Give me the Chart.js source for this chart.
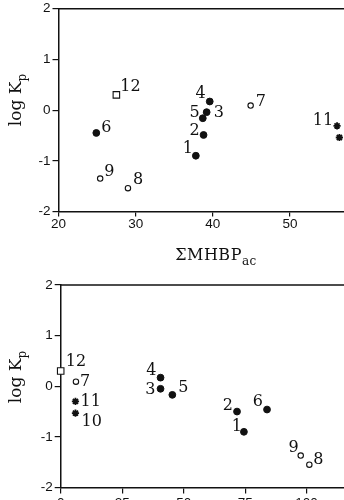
<!DOCTYPE html>
<html>
<head>
<meta charset="utf-8">
<script src="https://cdn.jsdelivr.net/npm/chart.js@4"></script>
<style>
  html, body { margin: 0; padding: 0; width: 344px; height: 500px; overflow: hidden; background: #fff; }
  canvas { position: absolute; left: 0; }
  .title { position: absolute; font-family: "DejaVu Serif", serif; font-size: 16px; color: #111; white-space: nowrap; line-height: 1; }
  .title sub { font-size: 12px; vertical-align: -5px; line-height: 0; }
  .ylab { transform: translate(-50%, -50%) rotate(-90deg); font-size: 17px; }
</style>
</head>
<body>
<canvas id="top" width="344" height="270" style="top:0"></canvas>
<canvas id="bottom" width="344" height="250" style="top:270px"></canvas>

<div class="title ylab" style="left:15px; top:100px">log K<sub>p</sub></div>
<div class="title" style="left:116px; top:247px; width:200px; text-align:center; letter-spacing:0.5px">ΣMHBP<sub>ac</sub></div>
<div class="title ylab" style="left:15px; top:377px">log K<sub>p</sub></div>

<script>
// compound numbers and marker kind
var ids = ['1', '2', '3', '4', '5', '6', '7', '8', '9', '10', '11', '12'];
var markerType = ['filled', 'filled', 'filled', 'filled', 'filled', 'filled',
                  'open', 'open', 'open', 'star', 'star', 'square'];

// upper panel: log Kp vs sum MHBP_ac
var topX = [37.8, 38.8, 39.2, 39.6, 38.7, 24.9, 44.9, 29.0, 25.4, 56.4, 56.1, 27.5];
var topY = [-0.90, -0.49, -0.04, 0.17, -0.16, -0.45, 0.09, -1.54, -1.35, -0.54, -0.31, 0.30];
var topTicksX = [20, 30, 40, 50];

// lower panel
var botX = [74.5, 71.7, 40.6, 40.6, 45.4, 83.9, 6.2, 101.1, 97.6, 6.0, 6.0, 0];
var botY = [-0.90, -0.50, -0.05, 0.17, -0.17, -0.46, 0.09, -1.55, -1.37, -0.53, -0.30, 0.30];
var botTicksX = [0, 25, 50, 75, 100];

var ticksY = [-2, -1, 0, 1, 2];

// where each number sits next to its marker
var topLabelOffsets = [[-3, -7], [-4, -4], [7, 1], [-4, -8], [-3, -5], [5, -5],
                       [5, -4], [5, -8], [4, -7], [5, 0], [-4, -5], [4, -8]];
var botLabelOffsets = [[-2, -5], [-4, -6], [-5, 1], [-4, -7], [6, -7], [-4, -8],
                       [4, 0], [4, -5], [-2, -8], [6, 9], [5, 0], [5, -9]];

var ink = '#111';
var markers = {
  filled: { shape: 'circle', r: 3.4, fill: ink, bw: 1 },
  open:   { shape: 'circle', r: 2.7, fill: '#fff', bw: 1.1 },
  star:   { shape: 'star', r: 3.6, fill: ink, bw: 1.8 },
  square: { shape: 'rect', r: 4.6, fill: '#fff', bw: 1.1 }
};

var pointIds = {
  id: 'pointIds',
  afterDatasetsDraw: function(chart, args, opts) {
    var ctx = chart.ctx;
    var meta = chart.getDatasetMeta(0);
    ctx.save();
    ctx.fillStyle = ink;
    ctx.font = '16px "DejaVu Serif"';
    ctx.textBaseline = 'middle';
    meta.data.forEach(function(pt, i) {
      var off = opts.offsets[i];
      ctx.textAlign = off[0] < 0 ? 'right' : 'left';
      ctx.fillText(ids[i], pt.x + off[0], pt.y + off[1]);
    });
    ctx.restore();
  }
};

var topFrame = {
  id: 'topFrame',
  afterDraw: function(chart) {
    var a = chart.chartArea, ctx = chart.ctx;
    ctx.save();
    ctx.strokeStyle = ink;
    ctx.lineWidth = 1.5;
    ctx.beginPath();
    ctx.moveTo(a.left, a.top);
    ctx.lineTo(a.right, a.top);
    ctx.stroke();
    ctx.restore();
  }
};

function makeChart(id, xs, ys, xmin, xmax, xticks, offsets, yWidth, padTop, padBottom, xTickLen, xTickPad) {
  var tickFont = { family: '"Liberation Sans", Arial', size: 13.5, lineHeight: 1 };
  return new Chart(document.getElementById(id), {
    type: 'scatter',
    data: {
      datasets: [{
        data: xs.map(function(x, i) { return { x: x, y: ys[i] }; }),
        pointStyle: markerType.map(function(t) { return markers[t].shape; }),
        pointRadius: markerType.map(function(t) { return markers[t].r; }),
        pointBackgroundColor: markerType.map(function(t) { return markers[t].fill; }),
        pointBorderColor: ink,
        pointBorderWidth: markerType.map(function(t) { return markers[t].bw; }),
        clip: false
      }]
    },
    options: {
      responsive: false,
      animation: false,
      events: [],
      layout: { autoPadding: false, padding: { top: padTop, bottom: padBottom, left: 0, right: 0 } },
      plugins: { legend: { display: false }, tooltip: { enabled: false }, pointIds: { offsets: offsets } },
      scales: {
        x: {
          type: 'linear', min: xmin, max: xmax,
          afterBuildTicks: function(s) { s.ticks = xticks.map(function(v) { return { value: v }; }); },
          afterFit: function(s) { s.height = 30; },
          grid: { drawOnChartArea: false, drawTicks: true, tickLength: xTickLen, color: ink, lineWidth: 1.2 },
          border: { color: ink, width: 1.5 },
          ticks: { color: ink, font: tickFont, padding: xTickPad, maxRotation: 0 }
        },
        y: {
          type: 'linear', min: -2, max: 2,
          afterBuildTicks: function(s) { s.ticks = ticksY.map(function(v) { return { value: v }; }); },
          afterFit: function(s) { s.width = yWidth; },
          grid: { drawOnChartArea: false, drawTicks: true, tickLength: 6, color: ink, lineWidth: 1.2 },
          border: { color: ink, width: 1.5 },
          ticks: { color: ink, font: tickFont, padding: 2 }
        }
      }
    },
    plugins: [pointIds, topFrame]
  });
}

makeChart('top', topX, topY, 20, 57, topTicksX, topLabelOffsets, 58.5, 7, 28.5, 5, 1);
makeChart('bottom', botX, botY, 0, 115.2, botTicksX, botLabelOffsets, 60.7, 15, 2.5, 6, 3);
</script>
</body>
</html>
